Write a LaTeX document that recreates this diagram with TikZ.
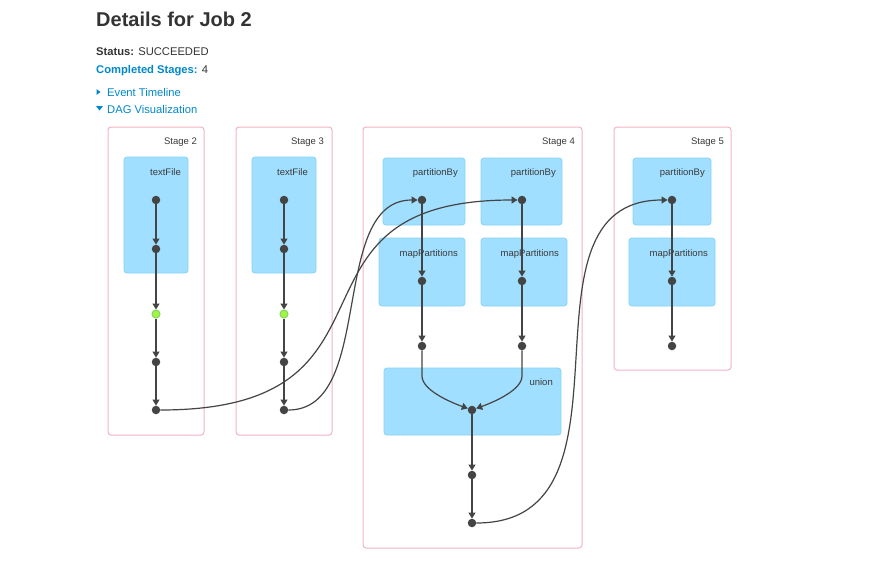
\documentclass[tikz,border=0pt]{standalone}
\usepackage{fontspec}
\setmainfont{Liberation Sans}
\usetikzlibrary{arrows.meta,positioning,calc}
\definecolor{SparkText}{HTML}{333333}
\definecolor{SparkLabel}{HTML}{3A3A3A}
\definecolor{SparkLink}{HTML}{0088CC}
\definecolor{SparkStage}{HTML}{F4B4C2}
\definecolor{SparkOpFill}{HTML}{A0DFFF}
\definecolor{SparkOpLine}{HTML}{86D3F8}
\definecolor{SparkDot}{HTML}{444444}
\definecolor{SparkCached}{HTML}{A3F545}
\definecolor{SparkCachedLine}{HTML}{7FD65A}
\tikzset{
    % Header texts
    headtext/.style={
        anchor=base west,
        inner sep=0pt,
        text=SparkText,
        font=\fontsize{11.2}{14}\selectfont
    },
    % Stage cluster (outer box)
    stagebox/.style={
        draw=SparkStage,
        fill=white,
        line width=1pt,
        rounded corners=3pt,
        anchor=north west,
        inner sep=0pt,
        outer sep=0pt
    },
    % Operation cluster (inner blue box)
    opbox/.style={
        draw=SparkOpLine,
        fill=SparkOpFill,
        line width=0.8pt,
        rounded corners=3pt,
        anchor=north west,
        inner sep=0pt,
        outer sep=0pt,
        minimum height=67pt
    },
    % Cluster labels
    clusterlabel/.style={
        anchor=base east,
        inner sep=0pt,
        text=SparkLabel,
        font=\fontsize{9.5}{11}\selectfont
    },
    % RDD dot
    rdd/.style={
        circle,
        fill=SparkDot,
        inner sep=0pt,
        minimum size=8.5pt
    },
    % Cached RDD dot
    cachedrdd/.style={
        rdd,
        fill=SparkCached,
        draw=SparkCachedLine,
        line width=1pt,
        minimum size=8pt
    },
    % Edge between RDDs
    flow/.style={
        -{Triangle[length=6pt,width=7pt]},
        line width=1.2pt,
        draw=SparkDot
    }
}
\begin{document}
\begin{tikzpicture}[x=1pt,y=-1pt]
    \useasboundingbox (0,0) rectangle (887,565);

    % header
    \node[headtext, font=\bfseries\fontsize{20}{24}\selectfont] (title) at (96,26.5) {Details for Job 2};
    \node[headtext] (status) at (96,55) {\textbf{Status:} SUCCEEDED};
    \node[headtext] (stages) at (96,73) {\textcolor{SparkLink}{\textbf{Completed Stages:}} 4};
    \node[headtext, text=SparkLink] (timeline) at (107,96) {Event Timeline};
    \node[headtext, text=SparkLink] (dagviz) at (107,113) {DAG Visualization};
    \fill[SparkLink] (96.5,89) -- (100.5,92) -- (96.5,95) -- cycle;
    \fill[SparkLink] (96,106) -- (103,106) -- (99.5,110.5) -- cycle;

    % stages
    \node[stagebox, minimum width=96pt, minimum height=308pt] (st2) at (108,127) {};
    \node[stagebox, minimum width=96pt, minimum height=308pt] (st3) at (236,127) {};
    \node[stagebox, minimum width=219pt, minimum height=421pt] (st4) at (363,127) {};
    \node[stagebox, minimum width=117pt, minimum height=243pt] (st5) at (614,127) {};
    \node[clusterlabel] (st2l) at (197,144) {Stage 2};
    \node[clusterlabel] (st3l) at (324,144) {Stage 3};
    \node[clusterlabel] (st4l) at (575,144) {Stage 4};
    \node[clusterlabel] (st5l) at (724,144) {Stage 5};

    % operations
    \node[opbox, minimum width=64pt, minimum height=116pt] (tf2) at (124,157) {};
    \node[opbox, minimum width=64pt, minimum height=116pt] (tf3) at (252,157) {};
    \node[opbox, minimum width=82pt] (pb4a) at (383,158) {};
    \node[opbox, minimum width=81pt] (pb4b) at (481,158) {};
    \node[opbox, minimum width=86pt, minimum height=68pt] (mp4a) at (379,238) {};
    \node[opbox, minimum width=86pt, minimum height=68pt] (mp4b) at (481,238) {};
    \node[opbox, minimum width=177pt] (un4) at (384,368) {};
    \node[opbox, minimum width=78pt] (pb5) at (633,158) {};
    \node[opbox, minimum width=86pt, minimum height=68pt] (mp5) at (629,238) {};
    \node[clusterlabel] (tf2l) at (181,175) {textFile};
    \node[clusterlabel] (tf3l) at (308,175) {textFile};
    \node[clusterlabel] (pb4al) at (458,175) {partitionBy};
    \node[clusterlabel] (pb4bl) at (556,175) {partitionBy};
    \node[clusterlabel] (mp4al) at (458,256) {mapPartitions};
    \node[clusterlabel] (mp4bl) at (559,256) {mapPartitions};
    \node[clusterlabel] (un4l) at (553,385) {union};
    \node[clusterlabel] (pb5l) at (705,175) {partitionBy};
    \node[clusterlabel] (mp5l) at (708,256) {mapPartitions};

    % RDDs
    \node[rdd] (d2a) at (156,200) {};
    \node[rdd] (d2b) at (156,249) {};
    \node[cachedrdd] (d2c) at (156,314) {};
    \node[rdd] (d2d) at (156,362) {};
    \node[rdd] (d2e) at (156,410) {};
    \node[rdd] (d3a) at (284,200) {};
    \node[rdd] (d3b) at (284,249) {};
    \node[cachedrdd] (d3c) at (284,314) {};
    \node[rdd] (d3d) at (284,362) {};
    \node[rdd] (d3e) at (284,410) {};
    \node[rdd] (d4a) at (422,200) {};
    \node[rdd] (d4b) at (422,281) {};
    \node[rdd] (d4c) at (422,346) {};
    \node[rdd] (d4d) at (522,200) {};
    \node[rdd] (d4e) at (522,281) {};
    \node[rdd] (d4f) at (522,346) {};
    \node[rdd] (d4u) at (472,410) {};
    \node[rdd] (d4g) at (472,475) {};
    \node[rdd] (d4h) at (472,523) {};
    \node[rdd] (d5a) at (672,200) {};
    \node[rdd] (d5b) at (672,281) {};
    \node[rdd] (d5c) at (672,346) {};

    % edges inside stages
    \draw[flow] (d2a) -- (d2b);
    \draw[flow] (d2b) -- (d2c);
    \draw[flow] (d2c) -- (d2d);
    \draw[flow] (d2d) -- (d2e);
    \draw[flow] (d3a) -- (d3b);
    \draw[flow] (d3b) -- (d3c);
    \draw[flow] (d3c) -- (d3d);
    \draw[flow] (d3d) -- (d3e);
    \draw[flow] (d4a) -- (d4b);
    \draw[flow] (d4b) -- (d4c);
    \draw[flow] (d4d) -- (d4e);
    \draw[flow] (d4e) -- (d4f);
    \draw[flow] (d4c) -- ++(0,30) .. controls +(0,14) and +(-22,-8) .. (d4u);
    \draw[flow] (d4f) -- ++(0,30) .. controls +(0,14) and +(22,-8) .. (d4u);
    \draw[flow] (d4u) -- (d4g);
    \draw[flow] (d4g) -- (d4h);
    \draw[flow] (d5a) -- (d5b);
    \draw[flow] (d5b) -- (d5c);

    % edges between stages
    \draw[flow] (d2e) .. controls +(265,0) and +(-256,0) .. (d4d);
    \draw[flow] (d3e) .. controls +(92,0) and +(-94,0) .. (d4a);
    \draw[flow] (d4h) .. controls +(179,0) and +(-167,0) .. (d5a);
\end{tikzpicture}
\end{document}
